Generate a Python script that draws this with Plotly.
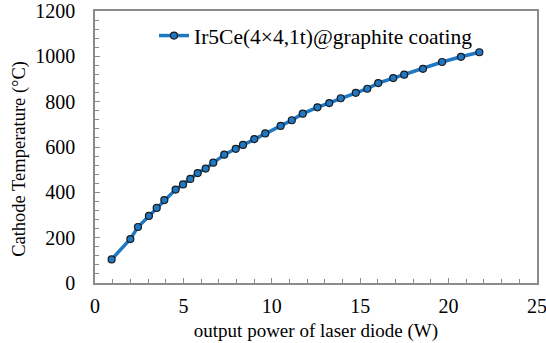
import plotly.graph_objects as go

power_w = [0.94, 2.0, 2.43, 3.05, 3.49, 3.92, 4.56, 4.98, 5.39, 5.81, 6.26, 6.69,
           7.31, 7.96, 8.37, 9.01, 9.63, 10.5, 11.13, 11.75, 12.58, 13.25, 13.9,
           14.75, 15.4, 16.02, 16.87, 17.49, 18.55, 19.63, 20.7, 21.74]
temp_c = [104, 194, 247, 296, 331, 366, 412, 435, 459, 485, 505, 531,
          566, 592, 609, 635, 660, 693, 718, 747, 775, 794, 815,
          839, 857, 882, 904, 919, 945, 975, 998, 1018]
series_name = "Ir5Ce(4×4,1t)@graphite coating"
x_ticks = [0, 5, 10, 15, 20, 25]
y_ticks = [0, 200, 400, 600, 800, 1000, 1200]

font = "Liberation Serif, Times New Roman, serif"
blue = "#1f78c4"

fig = go.Figure()
fig.add_trace(go.Scatter(
    x=power_w, y=temp_c, name=series_name, mode="lines+markers",
    line=dict(color=blue, width=3.5),
    marker=dict(size=7, color=blue, line=dict(color="#1a1a1a", width=1.2)),
))

axis_common = dict(
    showline=True, linecolor="#8c8c8c", linewidth=1.5, mirror=True,
    showgrid=False, zeroline=False, ticks="inside", tickcolor="#8c8c8c",
    ticklen=5, tickwidth=1.2, automargin=False, ticklabeloverflow="allow",
    tickfont=dict(family=font, size=20, color="#000"),
)

fig.update_layout(
    width=546, height=343,
    margin=dict(l=95, r=9, t=11, b=60),
    paper_bgcolor="white", plot_bgcolor="white",
    showlegend=True,
    legend=dict(x=0.5, xanchor="center", y=0.985, yanchor="top",
                font=dict(family=font, size=21.5, color="#000"),
                bgcolor="rgba(0,0,0,0)"),
    xaxis=dict(range=[0, 25], tickvals=x_ticks,
               title=dict(text="output power of laser diode (W)", standoff=8,
                          font=dict(family=font, size=19, color="#000")),
               minor=dict(dtick=1, ticks="inside", ticklen=4, tickcolor="#8c8c8c"),
               ticklabelstandoff=4,
               **axis_common),
    yaxis=dict(range=[0, 1200], tickvals=y_ticks,
               minor=dict(dtick=40, ticks="inside", ticklen=4, tickcolor="#8c8c8c"),
               ticklabelstandoff=14,
               **axis_common),
)
fig.add_annotation(text="Cathode Temperature (°C)", textangle=-90,
                   xref="paper", yref="paper", x=-0.17, y=0.456,
                   xanchor="center", yanchor="middle", showarrow=False,
                   font=dict(family=font, size=18.5, color="#000"))

fig.write_html("out.html", config={"displayModeBar": False},
               post_script="document.body.style.margin='0';")
